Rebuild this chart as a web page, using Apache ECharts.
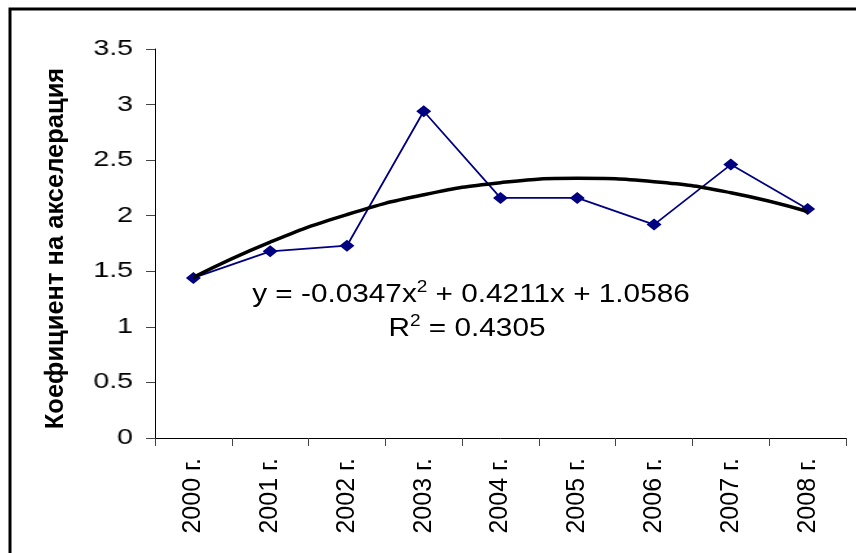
<!DOCTYPE html>
<html>
<head>
<meta charset="utf-8">
<script src="https://cdn.jsdelivr.net/npm/echarts@6/dist/echarts.min.js"></script>
<style>
html,body{margin:0;padding:0;background:#fff;overflow:hidden;}
#wrap{position:relative;width:856px;height:553px;}
#c{position:absolute;left:0;top:0;width:856px;height:553px;}
#y{position:absolute;left:0;top:0;width:300px;height:553px;pointer-events:none;transform:scaleX(1.3);transform-origin:133px 0;}
</style>
</head>
<body>
<div id="wrap"><div id="c"></div><div id="y"></div></div>
<script>
var categories = ['2000 г.','2001 г.','2002 г.','2003 г.','2004 г.','2005 г.','2006 г.','2007 г.','2008 г.'];
var values = [1.44, 1.68, 1.73, 2.94, 2.16, 2.16, 1.92, 2.46, 2.06];
var trendValues = [1.445, 1.762, 2.010, 2.188, 2.297, 2.336, 2.306, 2.207, 2.038];
var yTicks = {min: 0, max: 3.5, interval: 0.5};
var yTitle = 'Коефициент на акселерация';
var eqText = ['y = -0.0347x', '2', ' + 0.4211x + 1.0586'];
var r2Text = ['R', '2', ' = 0.4305'];

var FONT = '"Liberation Sans", Arial, sans-serif';
var GRID = {left: 155, right: 10, top: 49, bottom: 115};

var chart = echarts.init(document.getElementById('c'));
var richStyle = {
  a: {fontSize: 25, fontFamily: FONT, fill: '#000', lineHeight: 30},
  s: {fontSize: 16, fontFamily: FONT, fill: '#000', lineHeight: 12, verticalAlign: 'top'}
};
chart.setOption({
  animation: false,
  backgroundColor: '#fff',
  grid: GRID,
  xAxis: {
    type: 'category',
    data: categories,
    boundaryGap: true,
    axisLine: {lineStyle: {color: '#000', width: 1}},
    axisTick: {show: true, length: 8, lineStyle: {color: '#444'}},
    axisLabel: {rotate: 90, fontSize: 25, color: '#000', fontFamily: FONT, margin: 20}
  },
  yAxis: {
    type: 'value',
    min: yTicks.min, max: yTicks.max, interval: yTicks.interval,
    name: yTitle,
    nameLocation: 'middle',
    nameGap: 86,
    nameRotate: 90,
    nameTextStyle: {fontSize: 25.5, fontWeight: 'bold', color: '#000', fontFamily: FONT, padding: [0, 10, 0, 0]},
    axisLine: {show: true, lineStyle: {color: '#000', width: 1}},
    axisTick: {show: true, length: 9, lineStyle: {color: '#444'}},
    splitLine: {show: false},
    axisLabel: {show: false}
  },
  series: [
    {
      type: 'line',
      data: values,
      symbol: 'diamond',
      symbolSize: [15, 12],
      itemStyle: {color: '#000080'},
      lineStyle: {color: '#000080', width: 1.8},
      z: 2
    },
    {
      type: 'line',
      data: trendValues,
      smooth: true,
      symbol: 'none',
      lineStyle: {color: '#000', width: 3.5},
      z: 3
    }
  ],
  graphic: [
    {
      type: 'rect',
      shape: {x: 10, y: 9, width: 1000, height: 800},
      style: {fill: 'none', stroke: '#000', lineWidth: 3},
      silent: true
    },
    {
      type: 'text',
      x: 471, y: 295, scaleX: 1.19,
      style: {
        text: '{a|' + eqText[0] + '}{s|' + eqText[1] + '}{a|' + eqText[2] + '}',
        align: 'center', verticalAlign: 'middle',
        rich: richStyle
      }
    },
    {
      type: 'text',
      x: 467, y: 329, scaleX: 1.19,
      style: {
        text: '{a|' + r2Text[0] + '}{s|' + r2Text[1] + '}{a|' + r2Text[2] + '}',
        align: 'center', verticalAlign: 'middle',
        rich: richStyle
      }
    }
  ]
});

// y-axis tick labels (horizontally stretched as in the reference)
var ychart = echarts.init(document.getElementById('y'));
ychart.setOption({
  animation: false,
  grid: {left: 143, right: 100, top: GRID.top, bottom: GRID.bottom},
  xAxis: {type: 'value', show: false},
  yAxis: {
    type: 'value',
    min: yTicks.min, max: yTicks.max, interval: yTicks.interval,
    axisLine: {show: false},
    axisTick: {show: false},
    splitLine: {show: false},
    axisLabel: {fontSize: 22, color: '#000', fontFamily: FONT, margin: 10}
  },
  series: []
});
</script>
</body>
</html>
